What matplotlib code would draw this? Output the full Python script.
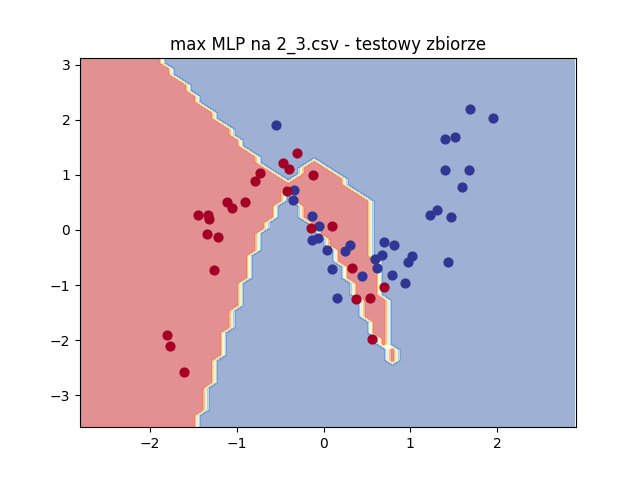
import numpy as np
import matplotlib
matplotlib.use("Agg")
import matplotlib.pyplot as plt

# punkty testowe
red_x = [-0.305, -0.47, -0.398, -0.732, -0.793, -0.124, -0.421, -1.112, -1.058, -0.905, -1.45, -1.331, -1.32,
         -1.346, -1.22, -0.144, 0.101, 0.332, 0.697, 0.375, 0.536, 0.559, -1.807, -1.766, -1.605, -1.262]
red_y = [1.395, 1.213, 1.104, 1.036, 0.896, 1.0, 0.715, 0.504, 0.405, 0.504, 0.267, 0.273, 0.205,
         -0.078, -0.127, 0.036, 0.078, -0.691, -1.027, -1.26, -1.231, -1.987, -1.909, -2.109, -2.576, -0.727]
blue_x = [-0.544, -0.337, -0.355, -0.136, -0.048, -0.136, -0.063, 0.037, 0.305, 0.251, 0.101, 0.447, 0.694, 0.816,
          0.678, 0.59, 0.617, 0.784, 0.937, 0.974, 1.02, 1.435, 0.152, 1.689, 1.957, 1.404, 1.512, 1.401, 1.674,
          1.593, 1.228, 1.312, 1.473]
blue_y = [1.909, 0.722, 0.54, 0.255, 0.069, -0.182, -0.14, -0.358, -0.267, -0.376, -0.715, -0.836, -0.213, -0.278,
          -0.449, -0.522, -0.691, -0.813, -0.964, -0.582, -0.478, -0.578, -1.236, 2.2, 2.036, 1.642, 1.685, 1.096,
          1.096, 0.776, 0.273, 0.358, 0.231]

# klasy modelu na siatce co 0.1, wiersze od gory
left_end = [9, 9, 10, 10, 11, 12, 12, 13, 13, 14, 15, 15, 16, 17, 17, 18, 18, 19, 20, 20, 21, 22, 23, 30,
            23, 23, 23, 22, 22, 22, 21, 21, 20, 20, 20, 20, 19, 19, 19, 19, 19, 18, 18, 18, 18, 18,
            17, 17, 17, 17, 16, 16, 16, 16, 16, 15, 15, 15, 15, 15, 14, 14, 14, 14, 14, 13, 13, 13]
mid_start = {19: 27, 20: 26, 21: 26, 22: 25, 24: 25, 25: 25, 26: 25, 27: 26, 28: 26, 29: 26, 30: 27, 31: 28, 32: 28,
             33: 29, 34: 29, 35: 30, 36: 30, 37: 30, 38: 31, 39: 31, 40: 31, 41: 32, 42: 32, 43: 32, 44: 33, 45: 33,
             46: 33, 47: 33, 48: 34, 49: 34, 50: 34, 51: 35, 52: 35, 53: 36, 54: 36, 55: 36}
mid_end = {19: 27, 20: 28, 21: 29, 22: 30, 24: 31, 25: 32, 26: 33, 27: 33, 28: 33, 29: 33, 30: 33, 31: 33, 32: 33,
           33: 33, 34: 33, 35: 33, 36: 33, 37: 34, 38: 34, 39: 34, 40: 34, 41: 34, 42: 34, 43: 34, 44: 35, 45: 35,
           46: 35, 47: 35, 48: 35, 49: 35, 50: 35, 51: 35, 52: 35, 53: 36, 54: 36, 55: 36}

x_min, x_max = -2.807, 2.91
y_min, y_max = -3.58, 3.127
grid_x = x_min + 0.1 * np.arange(58)
grid_y = y_max - 0.1 * np.arange(68)

Z = np.ones((68, 58))
for k, end in enumerate(left_end):
    Z[k, :end + 1] = 0
for k in mid_start:
    Z[k, mid_start[k]:mid_end[k] + 1] = 0

fig, ax = plt.subplots()
ax.contourf(grid_x, grid_y, Z, cmap=plt.cm.RdYlBu, alpha=0.5)
ax.scatter(blue_x, blue_y, c="#313695", s=40)
ax.scatter(red_x, red_y, c="#a50026", s=40)
ax.set_xlim(x_min, x_max)
ax.set_ylim(y_min, y_max)
ax.set_xticks([-2, -1, 0, 1, 2])
ax.set_yticks([-3, -2, -1, 0, 1, 2, 3])
ax.set_title("max MLP na 2_3.csv - testowy zbiorze")
fig.savefig("out.png", dpi=100)
